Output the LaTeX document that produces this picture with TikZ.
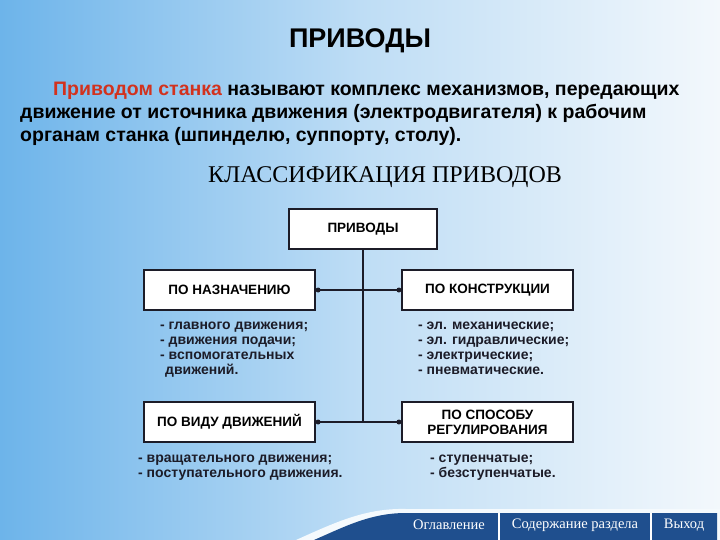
\documentclass[tikz,border=0pt]{standalone}
\usepackage{fontspec}
\setmainfont{Liberation Sans}
\newfontfamily\serifru{Liberation Serif}
\usepackage{xcolor}
\usetikzlibrary{positioning}

\definecolor{bgleft}{HTML}{6DB4EA}
\definecolor{bgmid}{HTML}{BEDDF5}
\definecolor{bgright}{HTML}{F3F8FC}
\definecolor{boxline}{HTML}{1C1C28}
\definecolor{termred}{HTML}{D2321E}
\definecolor{navblue}{HTML}{1F4F8E}

\begin{document}
\begin{tikzpicture}[
        x=1pt, y=-1pt,
        every node/.style={
            font=\bfseries,
            align=center
        },
        main/.style={
            rectangle,
            draw=boxline,
            line width=2.2pt,
            fill=white,
            minimum width=171pt,
            minimum height=40pt,
            inner sep=2pt,
            font=\fontsize{13.5}{15}\selectfont\bfseries
        },
        items/.style={
            align=left,
            anchor=north west,
            inner sep=0pt,
            text=boxline,
            font=\fontsize{14}{15}\selectfont\bfseries
        },
        link/.style={
            draw=boxline,
            line width=1.6pt
        },
        dot/.style={
            circle,
            fill=boxline,
            inner sep=0pt,
            minimum size=5pt
        },
        tab/.style={
            text=white,
            font=\serifru\fontsize{14.5}{16}\selectfont\mdseries
        }
    ]

    % Fond

    \shade[left color=bgleft, right color=bgright, middle color=bgmid]
    (0,0) rectangle (720,540);
    \useasboundingbox (0,0) rectangle (720,540);

    % Texte

    \node[font=\fontsize{27}{30}\selectfont\bfseries] (title) at (360,41)
    {ПРИВОДЫ};

    \node[align=left, anchor=north west, inner sep=0pt,
          font=\fontsize{19.5}{23}\selectfont\bfseries] (definition) at (20,82)
    {\hspace*{33pt}\textcolor{termred}{Приводом станка} называют комплекс механизмов, передающих\\
    движение от источника движения (электродвигателя) к рабочим\\
    органам станка (шпинделю, суппорту, столу).};

    \node[font=\serifru\fontsize{24}{27}\selectfont\mdseries] (heading) at (385,177)
    {КЛАССИФИКАЦИЯ ПРИВОДОВ};

    % Schema

    \node[main, minimum width=148pt] (drives) at (363,229) {ПРИВОДЫ};

    \node[main] (purpose) at (229.5,290) {ПО НАЗНАЧЕНИЮ};
    \node[main] (design) at (487.5,290) {ПО КОНСТРУКЦИИ};
    \node[main] (motion) at (229.5,422) {ПО ВИДУ ДВИЖЕНИЙ};
    \node[main] (control) at (487.5,422) {ПО СПОСОБУ\\РЕГУЛИРОВАНИЯ};

    \coordinate (lower) at (drives.south |- motion.east);

    \draw[link] (drives.south) -- (lower);
    \draw[link] (purpose.east) -- (design.west);
    \draw[link] (motion.east) -- (control.west);

    \node[dot] at ([xshift=2pt]purpose.east) {};
    \node[dot] at ([xshift=-2pt]design.west) {};
    \node[dot] at ([xshift=2pt]motion.east) {};
    \node[dot] at ([xshift=-2pt]control.west) {};

    % Listes

    \node[items] (purposelist) at (160,322)
    {- главного движения;\\
    - движения подачи;\\
    - вспомогательных\\
    \hspace*{5pt}движений.};

    \node[items] (designlist) at (418,322)
    {- эл. механические;\\
    - эл. гидравлические;\\
    - электрические;\\
    - пневматические.};

    \node[items] (motionlist) at (138,455)
    {- вращательного движения;\\
    - поступательного движения.};

    \node[items] (controllist) at (430,455)
    {- ступенчатые;\\
    - безступенчатые.};

    % Navigation

    \fill[white!85!bgmid] (296,540) .. controls (336,522) and (366,508) .. (406,509)
    -- (720,509) -- (720,540) -- cycle;
    \fill[navblue] (314,540) .. controls (346,526) and (371,513) .. (406,513)
    -- (717,513) -- (717,540) -- cycle;
    \draw[white, line width=1.5pt] (499,513) -- (499,540);
    \draw[white, line width=1.5pt] (651,513) -- (651,540);

    \node[tab] (contents) at (449,525) {Оглавление};
    \node[tab] (section) at (575,525) {Содержание раздела};
    \node[tab] (leave) at (684,525) {Выход};

    \end{tikzpicture}
\end{document}
